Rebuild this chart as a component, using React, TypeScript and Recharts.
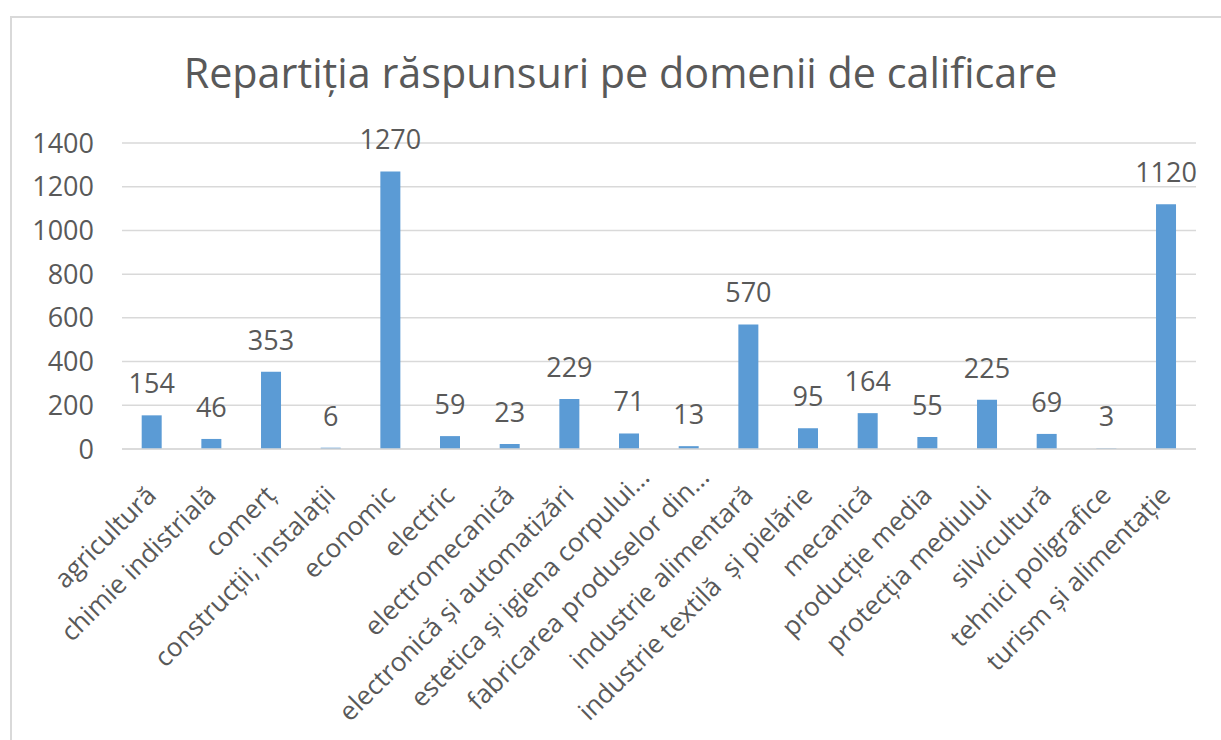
import React from "react";
import { BarChart, Bar, XAxis, YAxis, CartesianGrid, LabelList } from "recharts";

const categories = [
  "agricultură",
  "chimie indistrială",
  "comerț",
  "construcții, instalații",
  "economic",
  "electric",
  "electromecanică",
  "electronică și automatizări",
  "estetica și igiena corpului…",
  "fabricarea produselor din…",
  "industrie alimentară",
  "industrie textilă  și pielărie",
  "mecanică",
  "producție media",
  "protecția mediului",
  "silvicultură",
  "tehnici poligrafice",
  "turism și alimentație",
];
const values = [154, 46, 353, 6, 1270, 59, 23, 229, 71, 13, 570, 95, 164, 55, 225, 69, 3, 1120];
const yTicks = [0, 200, 400, 600, 800, 1000, 1200, 1400];
const title = "Repartiția răspunsuri pe domenii de calificare";

const data = categories.map((c, i) => ({ name: c, value: values[i] }));

const FONT = "'Open Sans', sans-serif";
const TEXT = "#595959";

const XTick = (props: any) => {
  const { x, y, payload } = props;
  const truncated = String(payload.value).endsWith("…");
  const ax = x + 6 + (truncated ? 16 : 0);
  const ay = y + 40 - (truncated ? 18 : 0);
  return (
    <text
      x={ax}
      y={ay}
      transform={`rotate(-45, ${ax}, ${ay})`}
      textAnchor="end"
      fill={TEXT}
      fontSize={26}
      fontFamily={FONT}
      style={{ whiteSpace: "pre" }}
    >
      {payload.value}
    </text>
  );
};

const DataLabel = (props: any) => {
  const { x, y, width, value } = props;
  return (
    <text x={x + width / 2} y={y - 22} textAnchor="middle" fill={TEXT} fontSize={27} fontFamily={FONT}>
      {value}
    </text>
  );
};

export default function App() {
  return (
    <div
      style={{
        position: "absolute",
        left: 0,
        top: 0,
        width: 1221,
        height: 740,
        overflow: "hidden",
        background: "#ffffff",
        fontFamily: FONT,
      }}
    >
      <div
        style={{
          position: "absolute",
          left: 10,
          top: 16,
          width: 1300,
          height: 800,
          border: "2px solid #d9d9d9",
          boxSizing: "border-box",
        }}
      />
      <div
        style={{
          position: "absolute",
          left: 0,
          top: 52,
          width: 1241,
          textAlign: "center",
          fontSize: 41.3,
          lineHeight: "41px",
          color: TEXT,
          whiteSpace: "nowrap",
        }}
      >
        {title}
      </div>
      <div style={{ position: "absolute", left: 0, top: 0 }}>
        <BarChart
          width={1221}
          height={740}
          data={data}
          margin={{ top: 143, right: 25, bottom: 91, left: 0 }}
          barCategoryGap="33%"
        >
          <CartesianGrid vertical={false} stroke="#d9d9d9" strokeWidth={1.5} />
          <XAxis
            dataKey="name"
            interval={0}
            height={200}
            tickLine={false}
            axisLine={{ stroke: "#d9d9d9", strokeWidth: 1.5 }}
            tick={<XTick />}
          />
          <YAxis
            width={122}
            domain={[0, 1400]}
            ticks={yTicks}
            axisLine={false}
            tickLine={false}
            tickSize={0}
            tickMargin={28}
            tick={{ fill: TEXT, fontSize: 27, fontFamily: FONT }}
          />
          <Bar dataKey="value" fill="#5b9bd5" isAnimationActive={false}>
            <LabelList dataKey="value" content={<DataLabel />} />
          </Bar>
        </BarChart>
      </div>
    </div>
  );
}
